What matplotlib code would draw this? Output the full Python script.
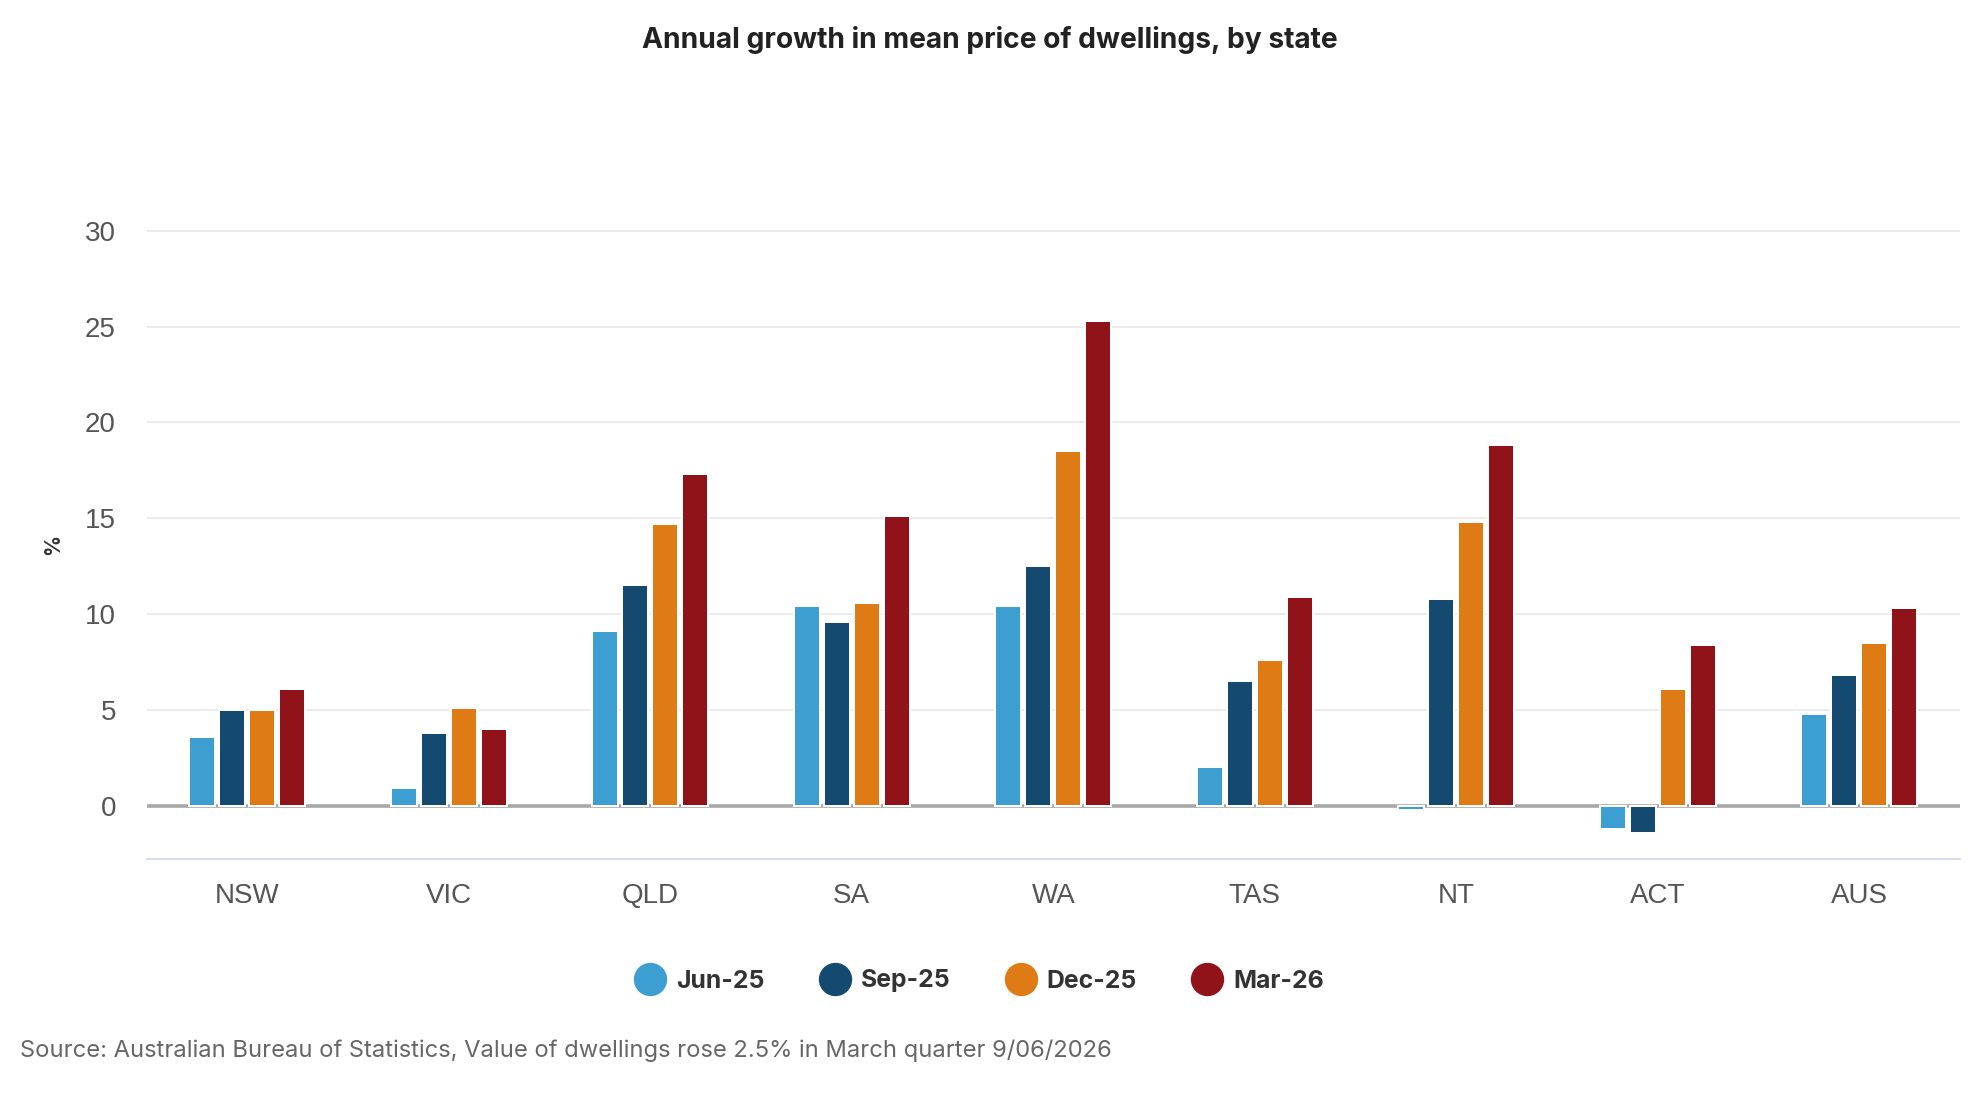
import matplotlib
matplotlib.use("Agg")
import matplotlib.pyplot as plt
from matplotlib.lines import Line2D
import numpy as np

categories = ["NSW", "VIC", "QLD", "SA", "WA", "TAS", "NT", "ACT", "AUS"]
series_names = ["Jun-25", "Sep-25", "Dec-25", "Mar-26"]
jun25 = [3.6, 0.9, 9.1, 10.4, 10.4, 2.0, -0.2, -1.2, 4.8]
sep25 = [5.0, 3.8, 11.5, 9.6, 12.5, 6.5, 10.8, -1.4, 6.8]
dec25 = [5.0, 5.1, 14.7, 10.6, 18.5, 7.6, 14.8, 6.1, 8.5]
mar26 = [6.1, 4.0, 17.3, 15.1, 25.3, 10.9, 18.8, 8.4, 10.3]
yticks = [0, 5, 10, 15, 20, 25, 30]

colors = ["#3d9ed2", "#154a70", "#de7b14", "#90131a"]
series = [jun25, sep25, dec25, mar26]

W, H = 1980, 1100
fig = plt.figure(figsize=(W / 100, H / 100), dpi=100)
fig.patch.set_facecolor("white")

left, right = 146.5 / W, 1960 / W
bottom, top = 1 - 859 / H, 1 - 229.7 / H
ax = fig.add_axes([left, bottom, right - left, top - bottom])

x = np.arange(len(categories))
pitch = 30 / 201.5
bw = 26 / 201.5
for i, (vals, c) in enumerate(zip(series, colors)):
    ax.bar(x + (i - 1.5) * pitch, vals, width=bw, color=c, edgecolor="white",
           linewidth=1.44, zorder=3)

ax.axhline(0, color="#a8a8a8", linewidth=2.6, zorder=2)

ax.set_xlim(-0.5, len(categories) - 0.5)
ax.set_ylim(-2.78, 30.05)
ax.set_yticks(yticks)
ax.set_xticks(x)
ax.set_xticklabels(categories)
ax.yaxis.grid(True, color="#e6e6e6", linewidth=1.1, zorder=0)
ax.set_axisbelow(True)

for s in ["top", "right", "left"]:
    ax.spines[s].set_visible(False)
ax.spines["bottom"].set_color("#ccd6eb")
ax.spines["bottom"].set_linewidth(1.2)

ax.tick_params(axis="both", length=0, labelsize=20, labelcolor="#555555",
               labelfontfamily="Liberation Sans")
ax.tick_params(axis="y", pad=22)
ax.tick_params(axis="x", pad=17)

fig.text(53 / W, 1 - 544 / H, "%", rotation=90, ha="center", va="center",
         fontsize=15, fontweight="bold", color="#333333", family="Inter")

fig.text(0.5, 1 - 40 / H, "Annual growth in mean price of dwellings, by state",
         ha="center", va="center", fontsize=20.3, fontweight="bold",
         color="#222222", family="Inter")

handles = [Line2D([0], [0], marker="o", linestyle="none", markersize=23,
                  markerfacecolor=c, markeredgecolor=c) for c in colors]
leg = fig.legend(handles, series_names, loc="center", ncol=4,
                 bbox_to_anchor=(979 / W, 1 - 981 / H), frameon=False,
                 handlelength=1.3, handletextpad=0.4, columnspacing=2.2,
                 prop={"family": "Inter", "weight": "bold", "size": 17.8})
for t in leg.get_texts():
    t.set_color("#333333")

fig.text(20 / W, 1 - 1051 / H,
         "Source: Australian Bureau of Statistics, Value of dwellings rose 2.5% in March quarter 9/06/2026",
         ha="left", va="center", fontsize=17.1, color="#666666", family="Inter")

fig.savefig("out.png", dpi=100)
